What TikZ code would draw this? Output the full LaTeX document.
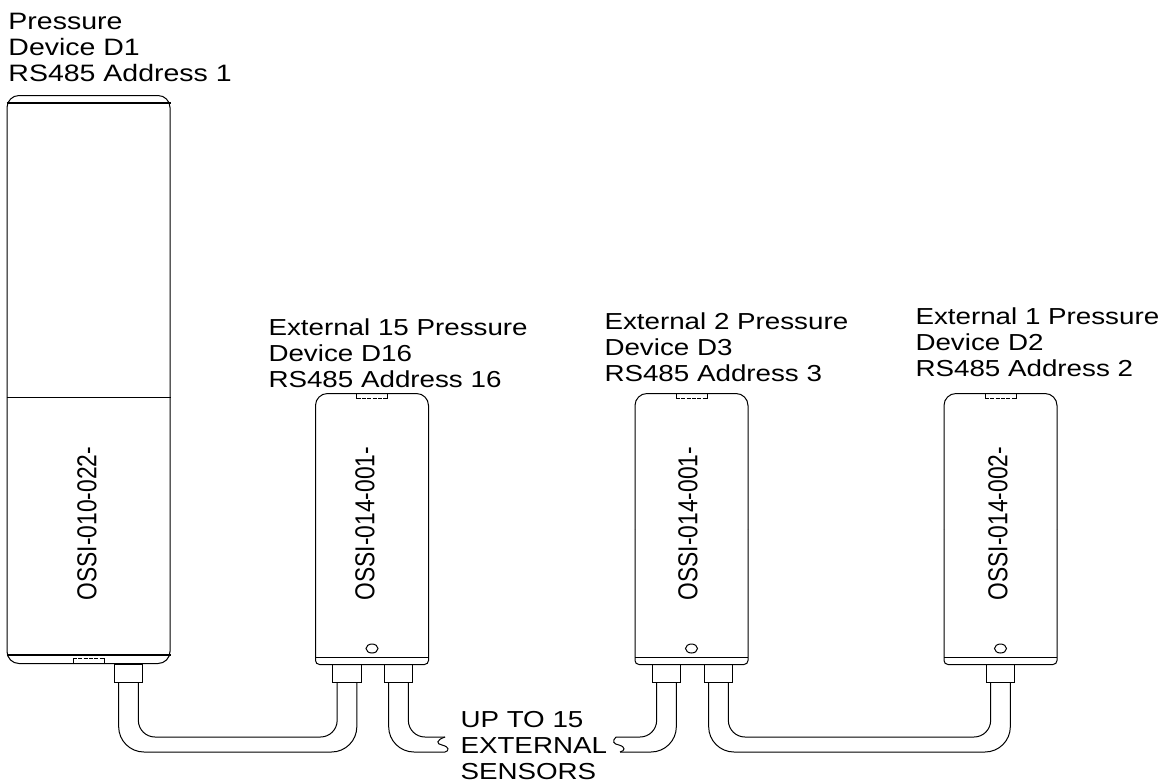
\documentclass[tikz,border=0pt]{standalone}
\usepackage{fontspec}
\setmainfont{Liberation Sans}[FakeStretch=1.2]
\newfontfamily\partfont{Liberation Sans}
\newcommand{\partno}[1]{\scalebox{1}[1.2]{\partfont #1}}
\usetikzlibrary{positioning}

\begin{document}
\begin{tikzpicture}[
      x=0.75pt,
      y=-0.75pt,
      line width=0.75pt,
      inner sep=0pt,
      lbl/.style={
          anchor=north west,
          align=left,
          font=\fontsize{17.35}{19.5}\selectfont
        },
      part/.style={
          rotate=90,
          font=\fontsize{17.1}{18}\selectfont
        },
      bigdev/.style={
          draw,
          rounded corners=9pt,
          minimum width=122.25pt,
          minimum height=426pt
        },
      sensor/.style={
          minimum width=84pt,
          minimum height=202.5pt
        },
      conbox/.style={
          draw,
          minimum width=21.5pt,
          minimum height=13.5pt
        },
      cable/.style={
          rounded corners=19pt
        }
    ]
    \useasboundingbox (0,0) rectangle (1165,783);

    % Devices
    \node[bigdev] (devA) at (88.5,379.5) {};
    \node[sensor] (devB) at (372,529) {};
    \node[sensor] (devC) at (691.5,529) {};
    \node[sensor] (devD) at (1000.5,529) {};

    % Connectors
    \node[conbox] (conA) at (128.5,673) {};
    \node[conbox] (conB) at (347,673) {};
    \node[conbox] (conC) at (398.5,673) {};
    \node[conbox] (conD) at (666.5,673) {};
    \node[conbox] (conE) at (718.5,673) {};
    \node[conbox] (conF) at (1000.5,673) {};

    % Labels
    \node[lbl, font=\fontsize{17.8}{19.5}\selectfont] (lblA) at (8,13) {Pressure\\Device D1\\RS485 Address 1};
    \node[lbl] (lblB) at (268,318) {External 15 Pressure\\Device D16\\RS485 Address 16};
    \node[lbl] (lblC) at (604,312) {External 2 Pressure\\Device D3\\RS485 Address 3};
    \node[lbl] (lblD) at (915,307.5) {External 1 Pressure\\Device D2\\RS485 Address 2};
    \node[lbl] (lblE) at (460,710.5) {UP TO 15\\EXTERNAL\\SENSORS};
    \node[part] (partA) at (87,523.5) {\partno{OSSI-010-022-}};
    \node[part] (partB) at (365,523.5) {\partno{OSSI-014-001-}};
    \node[part] (partC) at (688,523.5) {\partno{OSSI-014-001-}};
    \node[part] (partD) at (998,523.5) {\partno{OSSI-014-002-}};

    % Big device details
    \draw[line width=1.1pt] (devA.west |- 0,103) -- (devA.east |- 0,103);
    \draw (devA.west |- 0,397) -- (devA.east |- 0,397);
    \draw[line width=1.1pt] (devA.west |- 0,655) -- (devA.east |- 0,655);
    \draw (73,664) -- (73,658);
    \draw (104,664) -- (104,658);
    \draw[dashed, dash pattern=on 3pt off 1pt] (73,658) -- (104,658);

    % Sensor outlines
    \foreach \dev in {devB,devC,devD} {
        \draw[rounded corners=3pt] (\dev.west) -- (\dev.south west) -- (\dev.south east) -- (\dev.east);
        \draw[rounded corners=9pt] (\dev.west) -- (\dev.north west) -- (\dev.north east) -- (\dev.east);
        \draw (\dev.west |- 0,657) -- (\dev.east |- 0,657);
        \draw (\dev.south) ++(0,-16) ellipse (6 and 4.5);
        \draw[shift={(\dev.north)}] (-15.5,0) -- (-15.5,5);
        \draw[shift={(\dev.north)}] (15.5,0) -- (15.5,5);
        \draw[shift={(\dev.north)}, dashed, dash pattern=on 3pt off 1pt] (-15.5,5) -- (15.5,5);
      }

    % Cable levels and free ends
    \coordinate (low) at (0,752);
    \coordinate (high) at (0,737);
    \coordinate (endBhigh) at (445,737);
    \coordinate (endBlow) at (445,752);
    \coordinate (endDhigh) at (616,737);
    \coordinate (endDlow) at (620,752);

    % Cables
    \draw[cable] ([xshift=3.75pt]conA.south west) -- ([xshift=3.75pt]conA.south west |- low) -- ([xshift=-3.75pt]conB.south east |- low) -- ([xshift=-3.75pt]conB.south east);
    \draw[cable, rounded corners=12.5pt] ([xshift=-3.75pt]conA.south east) -- ([xshift=-3.75pt]conA.south east |- high) -- ([xshift=3.75pt]conB.south west |- high) -- ([xshift=3.75pt]conB.south west);
    \draw[cable] ([xshift=3.75pt]conC.south west) -- ([xshift=3.75pt]conC.south west |- low) -- (endBlow);
    \draw[cable, rounded corners=12.5pt] ([xshift=-3.75pt]conC.south east) -- ([xshift=-3.75pt]conC.south east |- high) -- (endBhigh);
    \draw (endBhigh) .. controls (436,740) and (436,744) .. (442,745) .. controls (450,747) and (449,751) .. (endBlow);
    \draw[cable] ([xshift=-3.75pt]conD.south east) -- ([xshift=-3.75pt]conD.south east |- low) -- (endDlow);
    \draw[cable, rounded corners=12.5pt] ([xshift=3.75pt]conD.south west) -- ([xshift=3.75pt]conD.south west |- high) -- (endDhigh);
    \draw (endDhigh) .. controls (612,741) and (613,744) .. (619,745) .. controls (626,747) and (625,751) .. (endDlow);
    \draw[cable] ([xshift=3.75pt]conE.south west) -- ([xshift=3.75pt]conE.south west |- low) -- ([xshift=-3.75pt]conF.south east |- low) -- ([xshift=-3.75pt]conF.south east);
    \draw[cable, rounded corners=12.5pt] ([xshift=-3.75pt]conE.south east) -- ([xshift=-3.75pt]conE.south east |- high) -- ([xshift=3.75pt]conF.south west |- high) -- ([xshift=3.75pt]conF.south west);

  \end{tikzpicture}
\end{document}
